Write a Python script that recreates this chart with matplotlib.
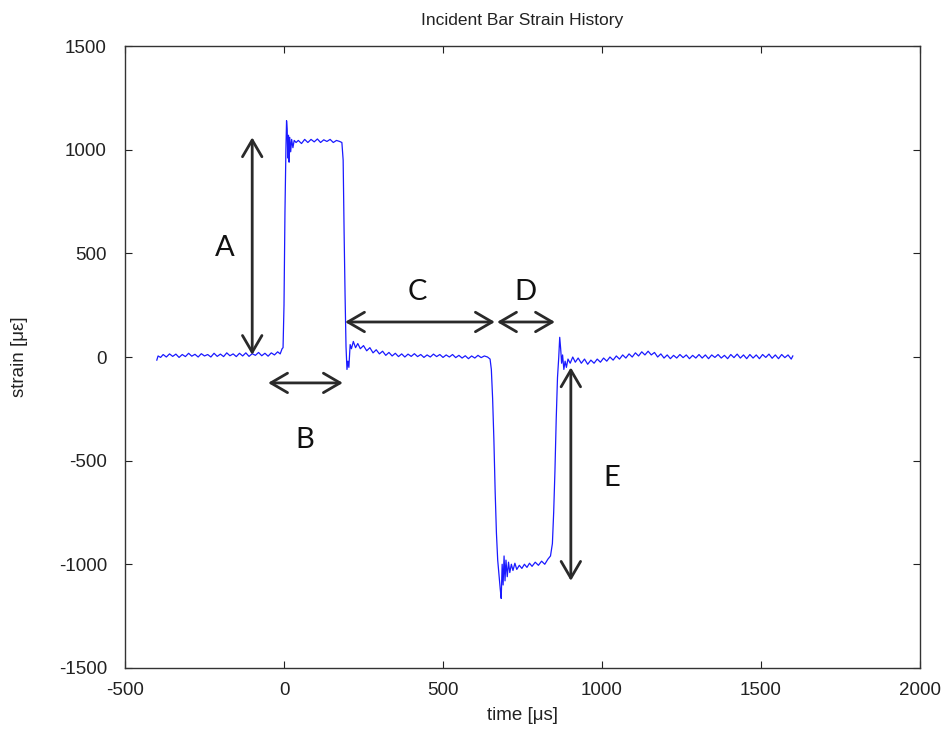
import matplotlib
matplotlib.use("Agg")
import matplotlib.pyplot as plt

plt.rcParams["font.family"] = ["Liberation Sans", "DejaVu Sans"]
plt.rcParams["axes.unicode_minus"] = False

# incident bar trace (time in us, strain in microstrain)
pre_t = [-400, -396, -388, -380, -370, -360, -350, -340, -330, -320, -310, -300,
         -290, -280, -270, -260, -250, -240, -230, -220, -210, -200, -190, -180,
         -170, -160, -150, -140, -130, -120, -110, -100, -90, -80, -70, -60, -50,
         -40, -30, -20, -12, -6]
pre_s = [-15, 5, -2, 12, 0, 15, 3, 14, -2, 12, 2, 18,
         4, 13, 0, 16, 5, 12, 0, 18, 3, 14, 2, 20,
         6, 15, 2, 18, 5, 20, 3, 16, 8, 22, 6, 18, 4,
         20, 10, 25, 15, 40]

pulse1_t = [-3, 0, 3, 6, 8, 10, 12, 14, 16, 18, 21, 24, 28, 32, 38, 45, 55, 65,
            75, 85, 95, 105, 115, 125, 135, 145, 155, 165, 175, 182, 186, 189,
            192, 195, 198, 201, 204, 208, 212, 218, 225, 232, 240, 250, 260, 270,
            280, 290]
pulse1_s = [45, 250, 700, 1000, 1140, 1100, 960, 1070, 940, 1060, 990, 1050, 1010,
            1045, 1035, 1045, 1030, 1050, 1035, 1050, 1038, 1052, 1035, 1048, 1040,
            1050, 1035, 1045, 1040, 1035, 950, 600, 300, 50, -60, -20, -50, 60, 40,
            75, 45, 65, 40, 55, 30, 45, 20, 35]

mid_t = [300, 310, 320, 330, 340, 350, 360, 370, 380, 390, 400, 410, 420, 430,
         440, 450, 460, 470, 480, 490, 500, 510, 520, 530, 540, 550, 560, 570,
         580, 590, 600, 610, 620, 630, 640, 648]
mid_s = [15, 28, 8, 22, 5, 18, 2, 15, 0, 14, 3, 16, 2, 12,
         -2, 10, 0, 14, 2, 12, -2, 10, 0, 12, -3, 8, -5, 6,
         -8, 5, -5, 8, -3, 5, 0, -10]

pulse2_t = [652, 656, 660, 664, 668, 672, 676, 680, 683, 686, 689, 692, 695, 698,
            702, 706, 710, 715, 720, 726, 732, 740, 748, 756, 764, 772, 780, 790,
            800, 810, 820, 830, 838, 844, 848, 852, 856, 860, 864, 867, 870, 873,
            876, 880, 884, 888, 893, 900, 908, 916, 925, 935, 945, 955, 965, 975,
            985, 995]
pulse2_s = [-60, -200, -400, -650, -850, -980, -1050, -1120, -1165, -1000, -1100,
            -960, -1080, -980, -1060, -990, -1040, -1000, -1030, -995, -1025, -1005,
            -1020, -1000, -1015, -995, -1010, -990, -1005, -985, -1000, -975, -960,
            -900, -750, -550, -300, -100, 0, 95, 40, -30, 10, -60, -20, -50, -10,
            -30, 0, -25, -5, -30, -10, -35, -15, -30, -10, -25]

post_t = [1005, 1015, 1025, 1035, 1045, 1055, 1065, 1075, 1085, 1095, 1105, 1115,
          1125, 1135, 1145, 1155, 1165, 1175, 1185, 1195, 1205, 1215, 1225, 1235,
          1245, 1255, 1265, 1275, 1285, 1295, 1305, 1315, 1325, 1335, 1345, 1355,
          1365, 1375, 1385, 1395, 1405, 1415, 1425, 1435, 1445, 1455, 1465, 1475,
          1485, 1495, 1505, 1515, 1525, 1535, 1545, 1555, 1565, 1575, 1585, 1595,
          1600]
post_s = [-5, -20, 0, -15, 5, -10, 10, -5, 15, 0, 20, 5,
          25, 10, 28, 10, 22, 0, 15, -5, 10, -8, 8, -5,
          12, -3, 10, -8, 8, -5, 12, -5, 10, -8, 10, -2,
          12, -5, 8, -8, 12, -3, 14, -5, 10, -8, 12, -5,
          10, -8, 12, -2, 14, -6, 10, -8, 12, -3, 10, -10,
          5]

time_us = pre_t + pulse1_t + mid_t + pulse2_t + post_t
strain_ue = pre_s + pulse1_s + mid_s + pulse2_s + post_s

# annotation arrows: (x0, y0, x1, y1) in data units, and label positions
arrow_labels = ["A", "B", "C", "D", "E"]
arrow_ends = [(-100, 1060, -100, 10),
              (-50, -125, 185, -125),
              (192, 169, 663, 169),
              (670, 169, 852, 169),
              (902, -50, 902, -1080)]
label_xy = [(-186, 527), (66, -400), (418, 313), (758, 313), (1031, -585)]

fig = plt.figure(figsize=(9.47, 7.38), dpi=100)
ax = fig.add_axes([0.132, 0.095, 0.8395, 0.8425])

ax.plot(time_us, strain_ue, color="#1a1aff", lw=0.9)

for lab, (x0, y0, x1, y1), (lx, ly) in zip(arrow_labels, arrow_ends, label_xy):
    ax.annotate("", xy=(x1, y1), xytext=(x0, y0),
                arrowprops=dict(arrowstyle="<->, head_length=0.6, head_width=0.35",
                                color="#2a2a2a", lw=2, mutation_scale=20,
                                shrinkA=0, shrinkB=0))
    ax.text(lx, ly, lab, fontsize=21, family=["Lato", "DejaVu Sans"],
            ha="center", va="center", color="#111111")

ax.set_xlim(-500, 2000)
ax.set_ylim(-1500, 1500)
ax.set_xticks([-500, 0, 500, 1000, 1500, 2000])
ax.set_yticks([-1500, -1000, -500, 0, 500, 1000, 1500])
ax.tick_params(direction="in", top=True, right=True, length=5, labelsize=13.5,
               colors="#222222")
ax.tick_params(axis="x", pad=10)
ax.tick_params(axis="y", pad=13)
for sp in ax.spines.values():
    sp.set_color("#333333")
    sp.set_linewidth(1.0)

ax.set_title("Incident Bar Strain History", fontsize=12.5, pad=15, color="#222222")
ax.set_xlabel("time [\u03bcs]", fontsize=13.5, color="#222222", labelpad=6)
ax.set_ylabel("strain [\u03bc\u03b5]", fontsize=13.5, color="#222222", labelpad=22)

fig.savefig("out.png", dpi=100)
